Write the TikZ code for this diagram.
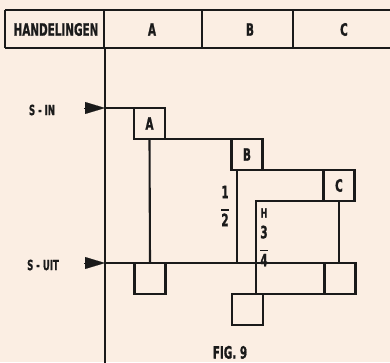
\documentclass[tikz,border=0pt]{standalone}
\usepackage{fontspec}
\setmainfont{DejaVu Sans Condensed}[BoldFont={DejaVu Sans Condensed Bold},BoldFeatures={FakeBold=1.5}]
\usetikzlibrary{arrows.meta}
\definecolor{paper}{HTML}{FBEEE3}
\definecolor{ink}{HTML}{1A1A1A}
\newcommand\cnd[1]{\scalebox{0.68}[1]{#1}}
\begin{document}
\begin{tikzpicture}[x=1pt,y=-1pt,
  ln/.style={draw=ink,line width=2.1pt},
  txt/.style={text=ink,inner sep=0pt,font=\fontsize{17}{17}\selectfont\bfseries},
  stxt/.style={text=ink,inner sep=0pt,font=\fontsize{14}{14}\selectfont\bfseries},
  stepbox/.style={draw=ink,line width=2.1pt,minimum width=31pt,minimum height=31pt,inner sep=0pt,outer sep=0pt,text=ink,font=\fontsize{17}{17}\selectfont\bfseries},
  tip/.style={draw=ink,line width=0.1pt,-{Triangle[length=20pt,width=12pt]}}]
\useasboundingbox (0,0) rectangle (390,362);
\fill[paper] (0,0) rectangle (390,362);
\clip (0,0) rectangle (390,362);
% header
\draw[ln] (5,10) -- (395,10) (5,48) -- (395,48) (5,10) -- (5,48)
  (104,10) -- (104,48) (202,10) -- (202,48) (293,10) -- (293,48);
\node[txt] (hh) at (56,29.5) {\cnd{HANDELINGEN}};
\node[txt] (ha) at (152,29.5) {\cnd{A}};
\node[txt] (hb) at (250,29.5) {\cnd{B}};
\node[txt] (hc) at (344,29.5) {\cnd{C}};
% main vertical
\coordinate (vtop) at (105,48);
\coordinate (vbot) at (105,365);
\draw[ln] (vtop) -- (vbot);
% labels
\node[stxt] (sin) at (42,110) {\cnd{S - IN}};
\node[stxt] (suit) at (43,265) {\cnd{S - UIT}};
\coordinate (inj) at (105,108);
\coordinate (uitj) at (105,263);
\draw[tip] (84,108) -- (inj);
\draw[tip] (84,263) -- (uitj);
% boxes
\node[stepbox] (A) at (149.5,123.5) {\cnd{A}};
\node[stepbox] (B) at (247,154.5) {\cnd{B}};
\node[stepbox] (C) at (339,185.5) {\cnd{C}};
\node[stepbox] (o1) at (150,278.5) {};
\node[stepbox] (o2) at (247.5,309.5) {};
\node[stepbox] (o3) at (340,278.5) {};
% connectors
\draw[ln] (inj) -- (A.north west);
\draw[ln] (A.south east) -- (B.north west);
\draw[ln] (B.south east) -- (C.north west);
\draw[ln] (A.south) -- (o1.north);
\coordinate (bdown) at (237,170);
\draw[ln] (bdown) -- (bdown |- uitj);
\coordinate (cleft) at (256,201);
\draw[ln] (C.south west) -- (cleft) -- (cleft |- o2.north);
\draw[ln] (C.south) -- (C.south |- o3.north);
\draw[ln] (uitj) -- (o3.north west);
\draw[ln] (o2.north east) -- (o3.south west);
% fraction labels
\node[txt,align=center] (half) at (225,206) {\cnd{1}\\[-4pt]\rule{8pt}{1.8pt}\\[-2pt]\cnd{2}};
\node[txt] (hlbl) at (264,213) {\fontsize{13}{13}\selectfont\cnd{H}};
\node[txt,align=center] (tq) at (264,246) {\cnd{3}\\[-4pt]\rule{8pt}{1.8pt}\\[-2pt]\cnd{4}};
\node[txt,anchor=south] (fig) at (230,359) {\cnd{FIG. 9}};
\end{tikzpicture}
\end{document}
